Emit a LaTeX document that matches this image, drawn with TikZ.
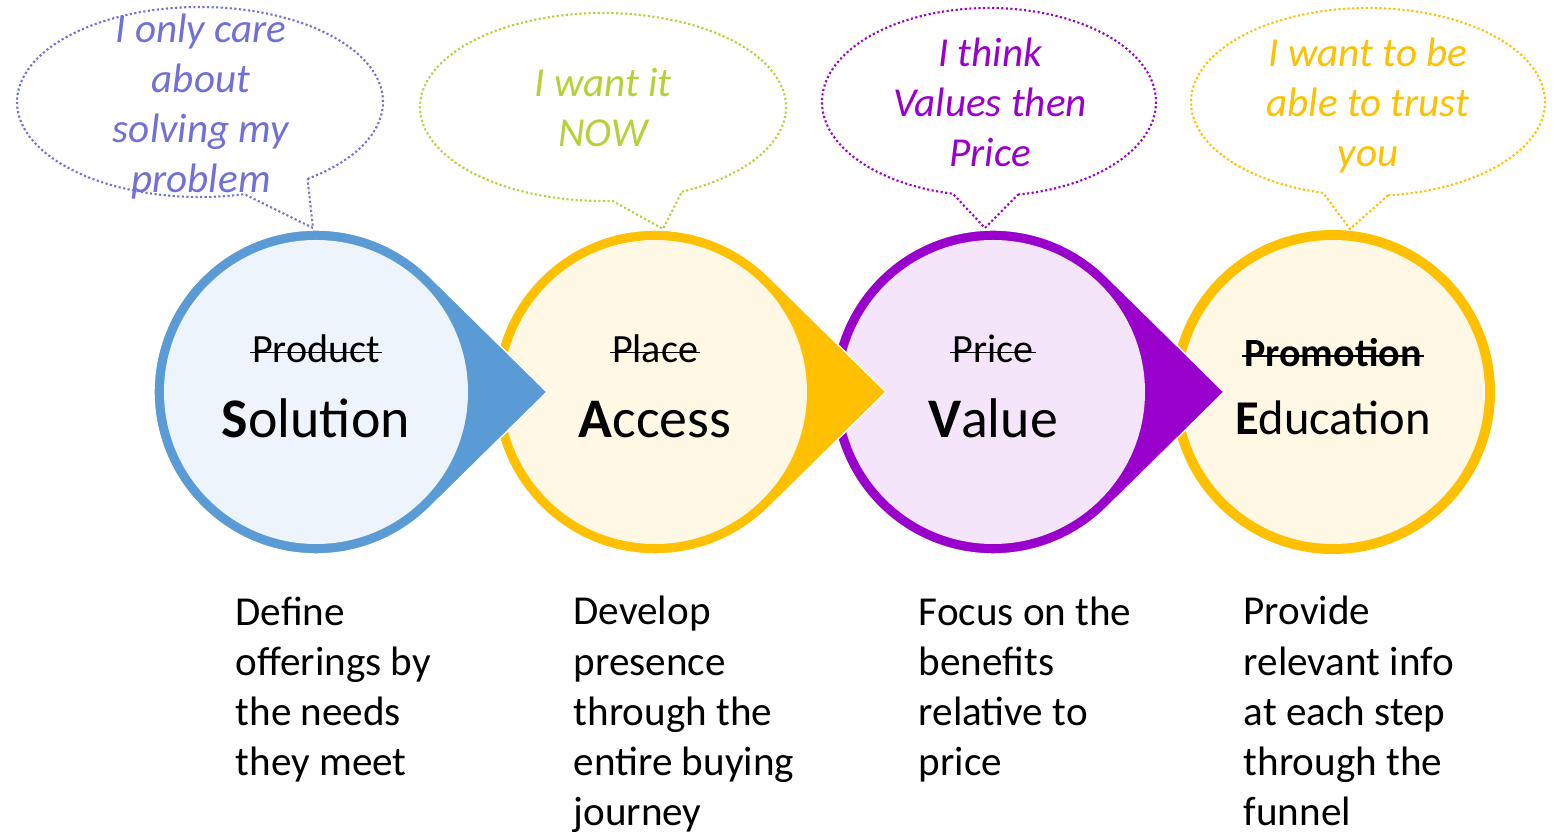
\documentclass[tikz,border=0pt]{standalone}
\usepackage{fontspec}
\setmainfont{Carlito}
\usetikzlibrary{calc}

\definecolor{solBlue}{RGB}{91,155,213}
\definecolor{solFill}{RGB}{238,244,251}
\definecolor{accGold}{RGB}{255,192,0}
\definecolor{accFill}{RGB}{255,248,229}
\definecolor{valPurple}{RGB}{153,0,204}
\definecolor{valFill}{RGB}{245,229,250}
\definecolor{sayBlue}{RGB}{112,112,214}
\definecolor{sayGreen}{RGB}{180,210,55}

% crossed-out word
\newcommand\struck[2][0.5pt]{\setbox0\hbox{#2}\rlap{\hskip-0.06em\rule[0.24em]{\dimexpr\wd0+0.12em\relax}{#1}}\box0}

\tikzset{
	disc/.style={circle,inner sep=0pt,minimum size=3.04cm},
	drop/.style={draw=white,line width=0.4pt},
	oldname/.style={anchor=base,inner sep=0pt,font=\fontsize{11.4pt}{13pt}\selectfont},
	newname/.style={anchor=base,inner sep=0pt,font=\fontsize{15.9pt}{19pt}\selectfont},
	bubble/.style={line width=0.6pt,dash pattern=on 0.6pt off 0.7pt},
	% multi-line nodes: base is the baseline of the last line
	saying/.style={anchor=base,align=center,inner sep=0pt,font=\fontsize{11.7pt}{14.3pt}\selectfont\itshape},
	blurb/.style={anchor=base west,align=left,inner sep=0pt,font=\fontsize{11.7pt}{14.3pt}\selectfont},
}

\begin{document}
\begin{tikzpicture}
			\useasboundingbox (0,0) rectangle (15.55,8.37);

			\coordinate (solC) at (3.16,4.45);
			\coordinate (accC) at (6.55,4.45);
			\coordinate (valC) at (9.93,4.45);
			\coordinate (eduC) at (13.33,4.45);

			% stages, drawn right to left so each tip lies on the next ring
			\fill[accGold] (eduC) circle[radius=1.62];
			\node[disc,fill=accFill] (edu) at (eduC) {};

			\fill[valPurple,drop] ($(valC)+(2.31,0)$) -- ($(valC)+(45.5:1.62)$)
				arc[start angle=45.5,end angle=314.5,radius=1.62] -- cycle;
			\node[disc,fill=valFill] (val) at (valC) {};

			\fill[accGold,drop] ($(accC)+(2.31,0)$) -- ($(accC)+(45.5:1.62)$)
				arc[start angle=45.5,end angle=314.5,radius=1.62] -- cycle;
			\node[disc,fill=accFill] (acc) at (accC) {};

			\fill[solBlue,drop] ($(solC)+(2.31,0)$) -- ($(solC)+(45.5:1.62)$)
				arc[start angle=45.5,end angle=314.5,radius=1.62] -- cycle;
			\node[disc,fill=solFill] (sol) at (solC) {};

			\node[oldname] (solOld) at ($(sol)+(0,0.29)$) {\struck{Product}};
			\node[newname] (solNew) at ($(sol)+(0,-0.46)$) {\textbf{S}olution};
			\node[oldname] (accOld) at ($(acc)+(0,0.29)$) {\struck{Place}};
			\node[newname] (accNew) at ($(acc)+(0,-0.46)$) {\textbf{A}ccess};
			\node[oldname] (valOld) at ($(val)+(0,0.29)$) {\struck{Price}};
			\node[newname] (valNew) at ($(val)+(0,-0.46)$) {\textbf{V}alue};
			\node[oldname] (eduOld) at ($(edu)+(0,0.25)$) {\struck[0.65pt]{\textbf{Promotion}}};
			\node[newname,font=\fontsize{13.8pt}{17pt}\selectfont] (eduNew) at ($(edu)+(0,-0.43)$) {\textbf{E}ducation};

			% speech bubbles
			\coordinate (solTalk) at (3.13,6.09);
			\coordinate (accTalk) at (6.63,6.08);
			\coordinate (valTalk) at (9.85,6.09);
			\coordinate (eduTalk) at (13.50,6.08);

			\draw[bubble,sayBlue] ($(2.00,7.35)+(306:1.83 and 0.95)$)
				arc[start angle=306,end angle=644,x radius=1.83,y radius=0.95] -- (solTalk) -- cycle;
			\draw[bubble,sayGreen] ($(6.03,7.30)+(295.5:1.83 and 0.94)$)
				arc[start angle=295.5,end angle=633,x radius=1.83,y radius=0.94] -- (accTalk) -- cycle;
			\draw[bubble,valPurple] ($(9.89,7.35)+(280:1.67 and 0.94)$)
				arc[start angle=280,end angle=617.5,x radius=1.67,y radius=0.94] -- (valTalk) -- cycle;
			\draw[bubble,accGold] ($(13.68,7.35)+(276.5:1.77 and 0.94)$)
				arc[start angle=276.5,end angle=615.3,x radius=1.77,y radius=0.94] -- (eduTalk) -- cycle;

			\node[saying,text=sayBlue] (solSay) at (2.01,6.44) {I only care\\about\\solving my\\problem};
			\node[saying,text=sayGreen] (accSay) at (6.03,6.90) {I want it\\NOW};
			\node[saying,text=valPurple] (valSay) at (9.90,6.70) {I think\\Values then\\Price};
			\node[saying,text=accGold] (eduSay) at (13.68,6.70) {I want to be\\able to trust\\you};

			% what each stage means
			\node[blurb] (solText) at (2.35,0.61) {Define\\offerings by\\the needs\\they meet};
			\node[blurb] (accText) at (5.73,0.11) {Develop\\presence\\through the\\entire buying\\journey};
			\node[blurb] (valText) at (9.18,0.61) {Focus on the\\benefits\\relative to\\price};
			\node[blurb] (eduText) at (12.43,0.11) {Provide\\relevant info\\at each step\\through the\\funnel};
		\end{tikzpicture}
\end{document}
